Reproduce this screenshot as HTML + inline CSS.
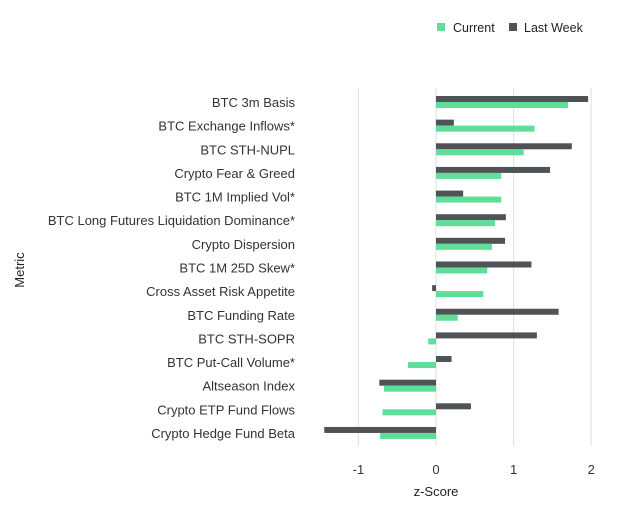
<!DOCTYPE html>
<html><head><meta charset="utf-8"><style>
body{margin:0;background:#fff;}
svg text{font-family:"Liberation Sans",sans-serif;}
</style></head><body>
<svg width="620" height="512" viewBox="0 0 620 512" id="chart">
<g>
<rect x="437" y="23" width="8" height="8" fill="#5ede98"/>
<text x="453" y="32" font-size="12.5" fill="#222">Current</text>
<rect x="509" y="23" width="8" height="8" fill="#4f5356"/>
<text x="524" y="32" font-size="12.5" fill="#222">Last Week</text>
</g>
<text transform="translate(24,270) rotate(-90)" text-anchor="middle" font-size="13" fill="#222">Metric</text>
<text x="436" y="496" text-anchor="middle" font-size="13" fill="#222">z-Score</text>
<g id="grid"></g><g id="bars"></g><g id="labels"></g>
</svg>
<script>
const categories=["BTC 3m Basis","BTC Exchange Inflows*","BTC STH-NUPL","Crypto Fear & Greed","BTC 1M Implied Vol*","BTC Long Futures Liquidation Dominance*","Crypto Dispersion","BTC 1M 25D Skew*","Cross Asset Risk Appetite","BTC Funding Rate","BTC STH-SOPR","BTC Put-Call Volume*","Altseason Index","Crypto ETP Fund Flows","Crypto Hedge Fund Beta"];
const currentValues=[1.70,1.27,1.13,0.84,0.84,0.76,0.72,0.66,0.61,0.28,-0.10,-0.36,-0.67,-0.69,-0.72];
const lastWeekValues=[1.96,0.23,1.75,1.47,0.35,0.90,0.89,1.23,-0.05,1.58,1.30,0.20,-0.73,0.45,-1.44];
const tickValues=[-1,0,1,2];
const tickLabels=["-1","0","1","2"];
const NS="http://www.w3.org/2000/svg";
function x(v){return 436+v*77.6;}
function y(i){return 102+i*23.64;}
function mk(t,a,p){const e=document.createElementNS(NS,t);for(const k in a)e.setAttribute(k,a[k]);p.appendChild(e);return e;}
const grid=document.getElementById('grid'),bars=document.getElementById('bars'),labels=document.getElementById('labels');
tickValues.forEach((v,i)=>{
 const l=mk('line',{x1:x(v),x2:x(v),y1:88,y2:446,stroke:'#e4e4e4','stroke-width':1.2},grid);
 
 
 const t=mk('text',{x:x(v),y:474,'text-anchor':'middle','font-size':13,fill:'#333'},grid);
 t.textContent=tickLabels[i];
 
 
});
categories.forEach((c,i)=>{
 const cy=y(i);
 const lw=lastWeekValues[i],cu=currentValues[i];
 const b1=mk('rect',{x:Math.min(x(0),x(lw)),y:cy-6,width:Math.abs(x(lw)-x(0)),height:6,fill:'#4f5356'},bars);
 
 
 const b2=mk('rect',{x:Math.min(x(0),x(cu)),y:cy,width:Math.abs(x(cu)-x(0)),height:6,fill:'#5ede98'},bars);
 
 
 const t=mk('text',{x:295,y:cy+5,'text-anchor':'end','font-size':13,fill:'#333'},labels);
 t.textContent=c;
 
 
});
</script>
</body></html>
